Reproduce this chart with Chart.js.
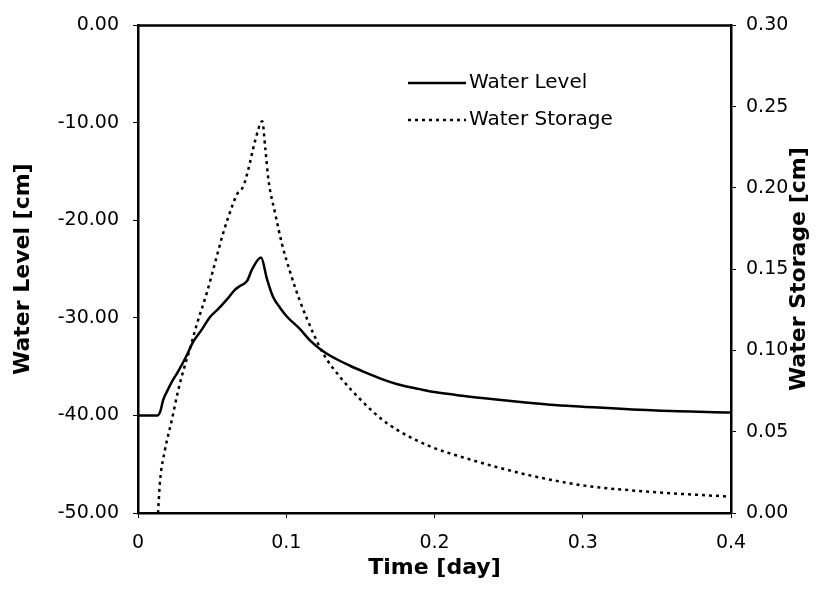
<!DOCTYPE html>
<html>
<head>
<meta charset="utf-8">
<script src="https://cdn.jsdelivr.net/npm/chart.js@4/dist/chart.umd.min.js"></script>
<style>
  html, body { margin: 0; padding: 0; background: #fff; }
  canvas { display: block; }
</style>
</head>
<body>
<canvas id="c" width="819" height="594"></canvas>
<script>
// ---- Data ----
const levelTime = [0, 0.013, 0.015, 0.017, 0.020, 0.023, 0.027, 0.033, 0.037, 0.043, 0.0486, 0.054, 0.060, 0.0655, 0.069, 0.0736, 0.077, 0.083, 0.087, 0.091, 0.096, 0.1007, 0.109, 0.116, 0.123, 0.130, 0.143, 0.152, 0.165, 0.175, 0.190, 0.200, 0.220, 0.250, 0.278, 0.300, 0.350, 0.400];
const levelValues = [-40, -40, -39.6, -38.4, -37.4, -36.5, -35.5, -33.8, -32.5, -31.2, -29.9, -29.1, -28.1, -27.1, -26.7, -26.2, -25.0, -23.8, -26.0, -27.8, -29.0, -29.9, -31.1, -32.3, -33.2, -33.9, -34.9, -35.5, -36.3, -36.8, -37.3, -37.6, -38.0, -38.5, -38.9, -39.1, -39.5, -39.7];

const storageTime = [0.0135, 0.0149, 0.018, 0.023, 0.027, 0.0304, 0.035, 0.040, 0.0466, 0.052, 0.0574, 0.064, 0.0667, 0.071, 0.0743, 0.079, 0.0838, 0.0858, 0.088, 0.0926, 0.097, 0.1027, 0.109, 0.118, 0.125, 0.136, 0.152, 0.164, 0.175, 0.197, 0.220, 0.243, 0.265, 0.300, 0.346, 0.400];
const storageValues = [0, 0.020, 0.038, 0.058, 0.075, 0.087, 0.101, 0.117, 0.136, 0.154, 0.172, 0.190, 0.196, 0.201, 0.211, 0.229, 0.241, 0.225, 0.205, 0.184, 0.166, 0.148, 0.131, 0.111, 0.098, 0.084, 0.068, 0.058, 0.051, 0.041, 0.034, 0.028, 0.023, 0.017, 0.013, 0.010];

const seriesNames = ['Water Level', 'Water Storage'];
const xTitle = 'Time [day]';
const yLeftTitle = 'Water Level [cm]';
const yRightTitle = 'Water Storage [cm]';

const toPoints = (xs, ys) => xs.map((x, i) => ({ x: x, y: ys[i] }));

const FONT = '"DejaVu Sans", sans-serif';

const framePlugin = {
  id: 'frame',
  afterDraw(chart) {
    const { ctx, chartArea: a } = chart;
    ctx.save();
    ctx.strokeStyle = '#000';
    ctx.lineWidth = 2.5;
    ctx.beginPath();
    ctx.moveTo(a.left, a.top);
    ctx.lineTo(a.right, a.top);
    ctx.stroke();

    // right axis title (reads bottom to top)
    ctx.fillStyle = '#000';
    ctx.font = 'bold 22px ' + FONT;
    ctx.textAlign = 'center';
    ctx.textBaseline = 'middle';
    ctx.translate(799, (a.top + a.bottom) / 2);
    ctx.rotate(-Math.PI / 2);
    ctx.fillText(yRightTitle, 0, 0);
    ctx.restore();

    // legend inside plot
    ctx.save();
    ctx.font = '20px ' + FONT;
    ctx.textAlign = 'left';
    ctx.textBaseline = 'middle';
    ctx.fillStyle = '#000';
    const rows = [83, 120];
    chart.data.datasets.forEach((ds, i) => {
      const y = rows[i];
      ctx.strokeStyle = '#000';
      ctx.lineWidth = ds.borderWidth;
      ctx.setLineDash(ds.borderDash || []);
      ctx.beginPath();
      ctx.moveTo(408, y);
      ctx.lineTo(466, y);
      ctx.stroke();
      ctx.setLineDash([]);
      ctx.fillText(ds.label, 469, y);
    });
    ctx.restore();
  }
};

new Chart(document.getElementById('c'), {
  type: 'line',
  data: {
    datasets: [
      {
        label: seriesNames[0],
        data: toPoints(levelTime, levelValues),
        yAxisID: 'y',
        borderColor: '#000',
        borderWidth: 2.5,
        pointRadius: 0,
        cubicInterpolationMode: 'monotone',
        fill: false
      },
      {
        label: seriesNames[1],
        data: toPoints(storageTime, storageValues),
        yAxisID: 'y2',
        borderColor: '#000',
        borderWidth: 2.5,
        borderDash: [3, 4],
        pointRadius: 0,
        cubicInterpolationMode: 'monotone',
        fill: false
      }
    ]
  },
  options: {
    responsive: false,
    animation: false,
    layout: { padding: { top: 20, left: 0, right: 0, bottom: 0 } },
    plugins: { legend: { display: false }, tooltip: { enabled: false } },
    scales: {
      x: {
        type: 'linear',
        min: 0, max: 0.4,
        afterFit(s) { s.height = 81; },
        ticks: {
          stepSize: 0.1,
          color: '#000',
          font: { family: FONT, size: 19 },
          padding: 14,
          maxRotation: 0,
          callback: v => String(Math.round(v * 10) / 10)
        },
        grid: { drawOnChartArea: false, drawTicks: true, tickLength: 5, color: '#000' },
        border: { color: '#000', width: 2.5 },
        title: {
          display: true, text: xTitle, color: '#000',
          font: { family: FONT, size: 22, weight: 'bold' },
          padding: { top: 0, bottom: 13 }
        }
      },
      y: {
        type: 'linear',
        position: 'left',
        min: -50, max: 0,
        afterFit(s) { s.width = 138; },
        ticks: {
          stepSize: 10,
          color: '#000',
          font: { family: FONT, size: 19 },
          padding: 14,
          callback: v => v.toFixed(2)
        },
        grid: { drawOnChartArea: false, drawTicks: true, tickLength: 5, color: '#000' },
        border: { color: '#000', width: 2.5 },
        title: {
          display: true, text: yLeftTitle, color: '#000',
          font: { family: FONT, size: 22, weight: 'bold' },
          padding: { top: 10, bottom: 0 }
        }
      },
      y2: {
        type: 'linear',
        position: 'right',
        min: 0, max: 0.3,
        afterFit(s) { s.width = 88; },
        ticks: {
          stepSize: 0.05,
          color: '#000',
          font: { family: FONT, size: 19 },
          padding: 10,
          callback: v => v.toFixed(2)
        },
        grid: { drawOnChartArea: false, drawTicks: true, tickLength: 5, color: '#000' },
        border: { color: '#000', width: 2.5 },
        title: { display: false }
      }
    }
  },
  plugins: [framePlugin]
});
</script>
</body>
</html>
